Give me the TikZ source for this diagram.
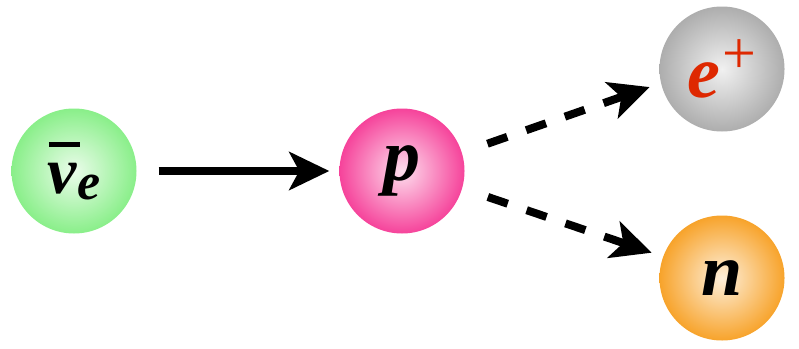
\documentclass[tikz,border=0pt]{standalone}
\usepackage{fontspec}
\setmainfont{Liberation Serif}
\usetikzlibrary{arrows.meta, positioning}

\definecolor{nugreen}{RGB}{118,236,118}
\definecolor{ppink}{RGB}{244,36,138}
\definecolor{egray}{RGB}{160,160,160}
\definecolor{norange}{RGB}{246,148,8}
\definecolor{ered}{RGB}{222,40,0}

\pgfdeclareradialshading[glowin,glowout]{glow}{\pgfpoint{0bp}{0bp}}{%
  color(0bp)=(glowin); color(30bp)=(glowout); color(50bp)=(glowout)}

\begin{document}
\begin{tikzpicture}[x=1pt, y=-1pt,
  ball/.style={circle, minimum size=125pt, inner sep=0pt,
    /utils/exec={\colorlet{glowout}{#1}\colorlet{glowin}{#1!15!white}},
    shade, shading=glow,
    font=\fontsize{74}{74}\selectfont\bfseries\itshape},
  flow/.style={line width=8pt, -{Stealth[length=40pt, width=38pt, inset=10pt]}},
  decay/.style={flow, dash pattern=on 21pt off 20pt}]

\useasboundingbox (0,0) rectangle (799,348);

% particles
\node[ball=nugreen] (nu) at (74,171)
  {\fontsize{66}{66}\selectfont\makebox[0pt][l]{\hspace{1pt}\raisebox{46pt}{\rule{31pt}{5pt}}}ν\raisebox{-6pt}{\fontsize{52}{52}\selectfont e}};
\node[ball=ppink] (p) at (402,171) {p};
\node[ball=egray, text=ered] (e) at (722,69)
  {e\hspace{2pt}\raisebox{24pt}{\fontsize{60}{60}\selectfont\normalfont +}};
\node[ball=norange] (n) at (722,278) {n};

% reaction
\draw[flow, shorten <=22pt, shorten >=10pt] (nu) -- (p);
\draw[decay, shorten <=27pt, shorten >=12pt] (p.17) -- (e.193);
\draw[decay, shorten <=27pt, shorten >=12pt] (p.-16) -- (n.160);

\end{tikzpicture}
\end{document}
